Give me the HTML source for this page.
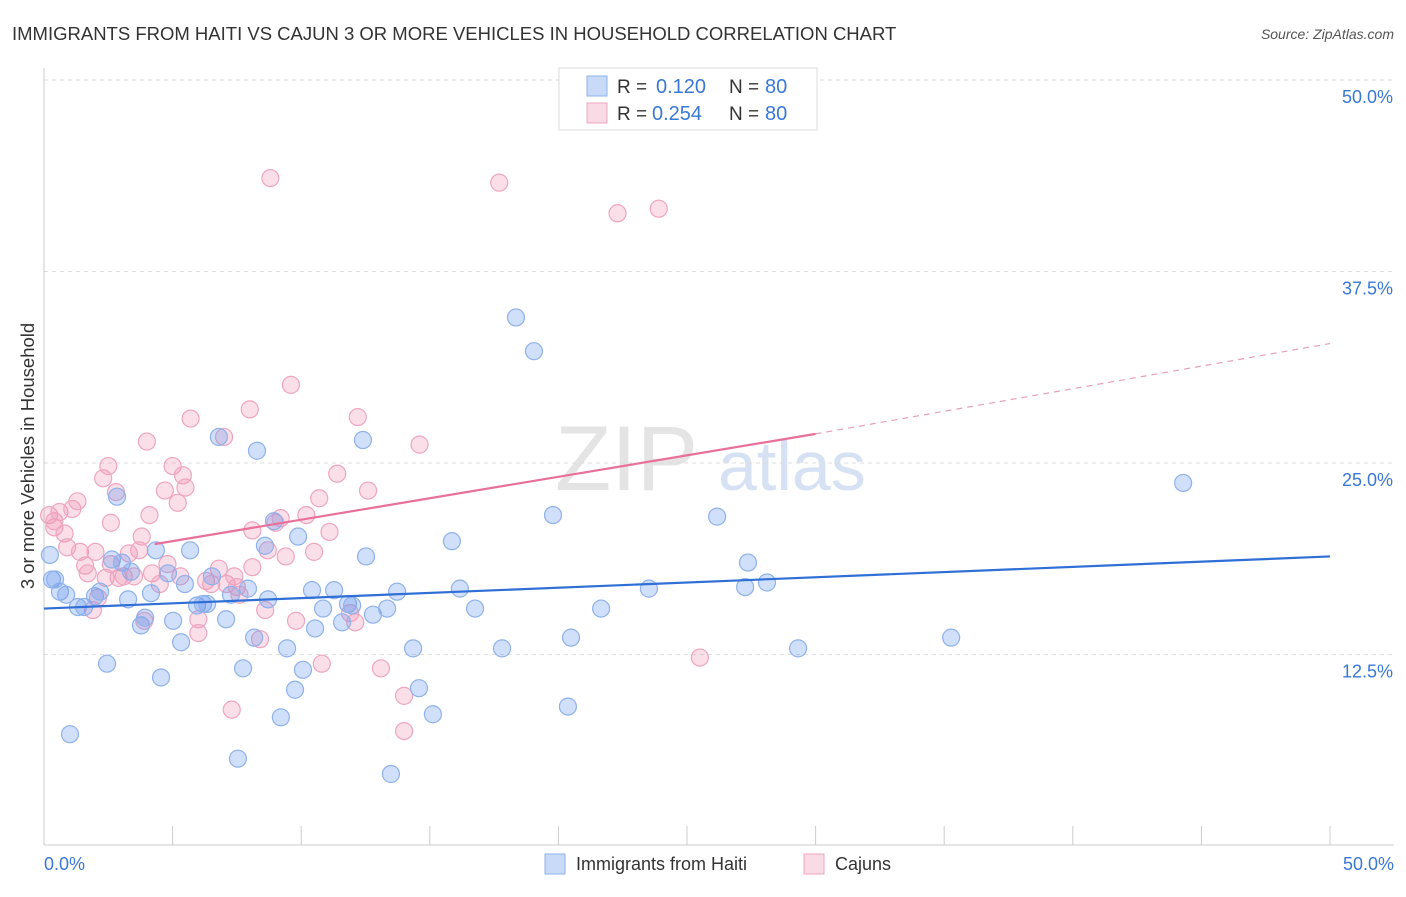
<!DOCTYPE html>
<html><head><meta charset="utf-8"><style>
body{margin:0;background:#fff;font-family:"Liberation Sans",sans-serif;}
svg text{font-family:"Liberation Sans",sans-serif;}
</style></head><body>
<svg id="c" width="1406" height="892">
<text x="12" y="40" font-size="18.5" fill="#333">IMMIGRANTS FROM HAITI VS CAJUN 3 OR MORE VEHICLES IN HOUSEHOLD CORRELATION CHART</text>
<text x="1394" y="39" font-size="14" fill="#555" text-anchor="end" font-style="italic">Source: ZipAtlas.com</text>
<text x="34" y="456" font-size="18.5" fill="#333" text-anchor="middle" transform="rotate(-90 34 456)">3 or more Vehicles in Household</text>
<g><text x="555" y="490" font-size="92" fill="#e4e4e4" font-family="Liberation Serif">ZIP</text><text x="718" y="490" font-size="70" fill="#d6e2f3">atlas</text></g>
<g id="grid"></g><g id="marks"></g>
<g>
<rect x="559" y="68" width="258" height="62" fill="#fff" stroke="#ddd"/>
<rect x="587" y="76" width="20" height="20" fill="rgba(100,149,237,0.35)" stroke="#8fb2ea"/>
<text x="617" y="93" font-size="19" fill="#333">R =</text>
<text x="656" y="93" font-size="20" fill="#3a78d8">0.120</text>
<text x="729" y="93" font-size="19" fill="#333">N =</text>
<text x="765" y="93" font-size="20" fill="#3a78d8">80</text>
<rect x="587" y="103" width="20" height="20" fill="rgba(240,150,180,0.35)" stroke="#efa5c0"/>
<text x="617" y="120" font-size="19" fill="#333">R =</text>
<text x="652" y="120" font-size="20" fill="#3a78d8">0.254</text>
<text x="729" y="120" font-size="19" fill="#333">N =</text>
<text x="765" y="120" font-size="20" fill="#3a78d8">80</text>
</g>
<g>
<rect x="545" y="854" width="20" height="20" fill="rgba(100,149,237,0.35)" stroke="#8fb2ea"/>
<text x="576" y="870" font-size="18" fill="#333">Immigrants from Haiti</text>
<rect x="804" y="854" width="20" height="20" fill="rgba(240,150,180,0.35)" stroke="#efa5c0"/>
<text x="835" y="870" font-size="18" fill="#333">Cajuns</text>
</g>
</svg>
<script>
const blueX=[0.23,0.31,0.62,0.86,1.01,1.32,1.56,1.98,2.18,2.45,2.64,2.84,3.03,3.27,3.38,3.77,3.93,4.16,4.35,4.55,4.82,5.02,5.33,5.48,5.68,5.95,6.18,6.34,6.53,6.80,7.08,7.27,7.54,7.74,7.93,8.17,8.28,8.59,8.71,8.94,9.21,9.45,9.76,9.88,10.07,10.42,10.54,10.85,11.28,11.59,11.82,11.98,12.40,12.52,12.79,13.34,13.49,13.73,14.35,14.58,15.12,15.86,16.17,16.76,17.81,18.35,19.05,19.79,20.37,20.49,21.66,23.52,26.17,27.26,27.37,28.11,29.32,35.27,44.29,0.43];
const blueY=[19.0,17.4,16.6,16.4,7.3,15.6,15.6,16.3,16.6,11.9,18.7,22.8,18.5,16.1,17.9,14.4,14.9,16.5,19.3,11.0,17.8,14.7,13.3,17.1,19.3,15.7,15.8,15.8,17.6,26.7,14.8,16.4,5.7,11.6,16.8,13.6,25.8,19.6,16.1,21.2,8.4,12.9,10.2,20.2,11.5,16.7,14.2,15.5,16.7,14.6,15.8,15.7,26.5,18.9,15.1,15.5,4.7,16.6,12.9,10.3,8.6,19.9,16.8,15.5,12.9,34.5,32.3,21.6,9.1,13.6,15.5,16.8,21.5,16.9,18.5,17.2,12.9,13.6,23.7,17.4];
const pinkX=[0.2,0.4,0.4,0.6,0.8,0.9,1.1,1.3,1.4,1.6,1.7,1.9,2.0,2.1,2.3,2.4,2.5,2.6,2.8,2.9,3.1,3.3,3.5,3.7,3.8,3.9,4.0,4.1,4.2,4.5,4.7,4.8,5.0,5.3,5.4,5.5,5.2,5.7,6.0,6.0,6.3,6.5,6.8,7.0,7.1,7.3,7.4,7.5,8.0,8.1,8.1,8.4,8.6,8.7,8.8,9.0,9.2,9.4,9.6,9.8,10.2,10.5,10.7,10.8,11.1,11.4,11.9,12.1,12.2,12.6,13.1,14.0,14.0,14.6,17.7,22.3,23.9,25.5,7.6,2.6];
const pinkY=[21.6,20.8,21.2,21.8,20.4,19.5,22.0,22.5,19.2,18.3,17.8,15.4,19.2,16.2,24.0,17.5,24.8,21.1,23.1,17.5,17.6,19.1,17.6,19.3,20.2,14.7,26.4,21.6,17.8,17.1,23.2,18.4,24.8,17.6,24.2,23.4,22.4,27.9,14.8,13.9,17.3,17.1,18.1,26.7,17.1,8.9,17.6,16.9,28.5,18.2,20.6,13.5,15.4,19.3,43.6,21.1,21.4,18.9,30.1,14.7,21.6,19.2,22.7,11.9,20.5,24.3,15.2,14.6,28.0,23.2,11.6,9.8,7.5,26.2,43.3,41.3,41.6,12.3,16.4,18.4];
const blueTrend=[15.5,18.9];
const pinkTrend=[18.5,26.9,32.8];
const yTicks=[12.5,25,37.5,50];
const xTicks=[0,5,10,15,20,25,30,35,40,45,50];
const X=v=>44+v/50*1286, Y=v=>846-v/12.5*191.5;
const NS="http://www.w3.org/2000/svg";
function mk(p,t,a){const e=document.createElementNS(NS,t);for(const k in a)e.setAttribute(k,a[k]);p.appendChild(e);return e;}
const g=document.getElementById('grid'),m=document.getElementById('marks');
yTicks.forEach(t=>{
 const l=mk(g,'line',{x1:44,x2:1394,y1:Y(t),y2:Y(t),stroke:'#ddd','stroke-dasharray':'4,4'});
 
 
 const tx=mk(g,'text',{x:1393,y:Y(t)+23,'font-size':18,fill:'#3a78d8','text-anchor':'end'});tx.textContent=t.toFixed(1)+'%';
 
 
});
const ax=mk(g,'line',{x1:44,x2:44,y1:68,y2:845,stroke:'#ccc'});


const bx=mk(g,'line',{x1:44,x2:1394,y1:845,y2:845,stroke:'#ccc'});


xTicks.forEach(t=>{
 const l=mk(g,'line',{x1:X(t),x2:X(t),y1:826,y2:845,stroke:'#ccc'});
 
 
});
[[0,'start',44],[50,'end',1394]].forEach(([v,a,px])=>{
 const tx=mk(g,'text',{x:px,y:870,'font-size':18,fill:'#3a78d8','text-anchor':a});tx.textContent=v.toFixed(1)+'%';
 
 
});
pinkX.forEach((x,i)=>{
 const c=mk(m,'circle',{cx:X(x),cy:Y(pinkY[i]),r:8.5,fill:'rgba(240,150,180,0.3)',stroke:'#efa5c0','stroke-width':1.2});
 
 
});
blueX.forEach((x,i)=>{
 const c=mk(m,'circle',{cx:X(x),cy:Y(blueY[i]),r:8.5,fill:'rgba(100,149,237,0.3)',stroke:'#8fb2ea','stroke-width':1.2});
 
 
});
const bl=mk(m,'line',{x1:X(0),y1:Y(blueTrend[0]),x2:X(50),y2:Y(blueTrend[1]),stroke:'#2f6fd6','stroke-width':2.2});


const ps=pinkTrend[0]+(pinkTrend[1]-pinkTrend[0])*(4.3/30);
const pl=mk(m,'line',{x1:X(4.3),y1:Y(ps),x2:X(30),y2:Y(pinkTrend[1]),stroke:'#e8709a','stroke-width':2.2});


const pd=mk(m,'line',{x1:X(30),y1:Y(pinkTrend[1]),x2:X(50),y2:Y(pinkTrend[2]),stroke:'#e8a0b8','stroke-width':1.2,'stroke-dasharray':'6,5'});


</script>
</body></html>
